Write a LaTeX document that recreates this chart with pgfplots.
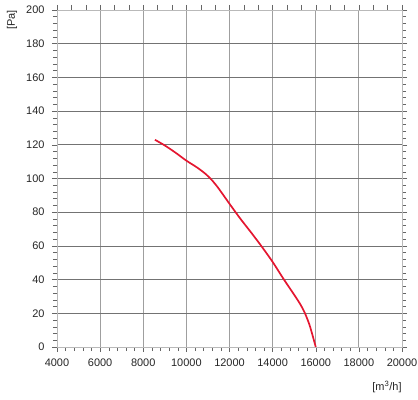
\documentclass[border=0pt]{standalone}
\usepackage{fontspec}
\setmainfont{Liberation Sans}
\usepackage{pgfplots}
\pgfplotsset{compat=1.18}
\definecolor{curve}{RGB}{228,22,48}
\begin{document}
\begin{tikzpicture}[x=1bp,y=1bp]
\path[use as bounding box] (0,0) rectangle (418,400);
\begin{axis}[
  at={(57bp,53bp)}, anchor=south west,
  width=345bp, height=337bp, scale only axis,
  xmin=4000, xmax=20000, ymin=0, ymax=200,
  xtick={4000,6000,...,20000}, ytick={0,20,...,200},
  minor x tick num=4, minor y tick num=4,
  xtick pos=left,
  tick align=outside,
  major tick length=5bp, minor tick length=4bp,
  xmajorgrids, ymajorgrids,
  major x grid style={gray!75, line width=0.9pt},
  major y grid style={gray!90!black, line width=0.6pt},
  axis line style={gray!55, line width=0.8pt},
  every tick/.style={gray!80!black, line width=0.5pt},
  ticklabel style={font=\fontsize{11}{13}\selectfont, text=black!85},
  xticklabel style={yshift=-3bp},
  yticklabel style={xshift=-4bp},
  /pgf/number format/assume math mode=true,
  /pgf/number format/1000 sep={},
  scaled x ticks=false,
]
\addplot[curve, line width=1.7pt, smooth, tension=0.5] coordinates {
(8540,123)
(9000,119.6)
(9500,115.3)
(10000,110.6)
(10500,106.5)
(10900,102.6)
(11200,98.8)
(11500,94)
(12000,85)
(12500,76.2)
(13000,68)
(13500,59.5)
(14000,50.5)
(14500,40.5)
(15000,31)
(15300,25)
(15500,20)
(15700,13.5)
(15850,7)
(16000,0)
};
\end{axis}
\begin{axis}[
  at={(57bp,53bp)}, anchor=south west,
  width=345bp, height=337bp, scale only axis,
  xmin=0, xmax=24, ymin=0, ymax=200,
  axis x line*=top, axis y line=none,
  xtick={0,...,24}, xticklabels={},
  tick align=outside, major tick length=5bp,
  axis line style={gray!55, line width=0.8pt, -},
  every tick/.style={gray!80!black, line width=0.5pt},
]
\end{axis}
\node[rotate=90, font=\fontsize{11}{13}\selectfont, text=black!85] at (12,380) {[Pa]};
\node[font=\fontsize{11}{13}\selectfont, text=black!85] at (387,13) {[m\textsuperscript{3}/h]};
\end{tikzpicture}
\end{document}
